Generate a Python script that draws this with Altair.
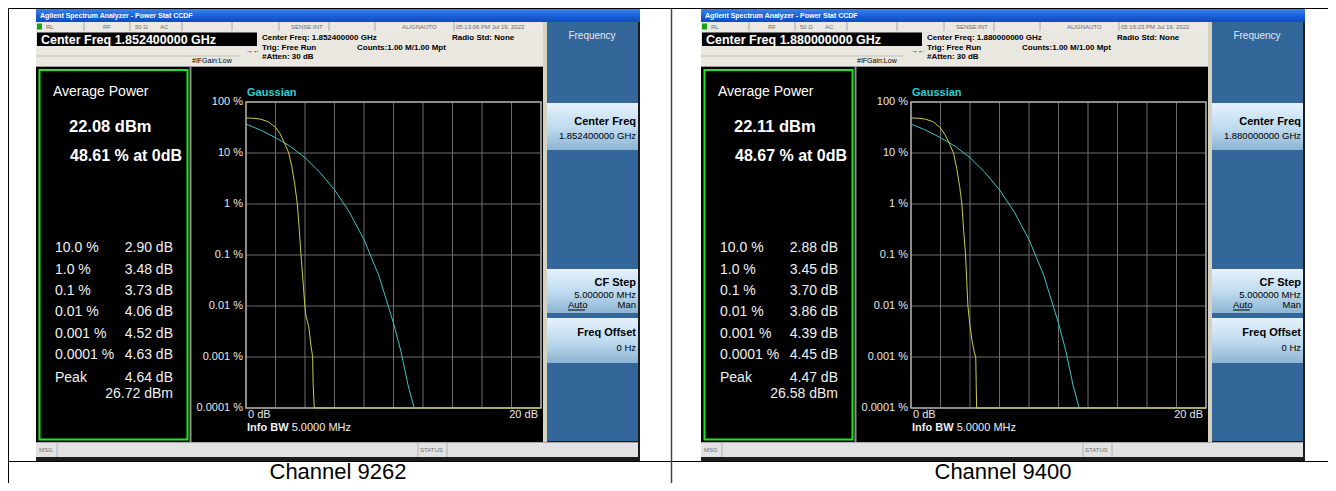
import altair as alt
import pandas as pd

# ---------------- data ----------------
channels = ["Channel 9262", "Channel 9400"]
center_freq = ["1.852400000 GHz", "1.880000000 GHz"]
timestamps = ["05:13:06 PM Jul 19, 2022", "05:16:23 PM Jul 19, 2022"]
avg_power = ["22.08 dBm", "22.11 dBm"]
pct_at_0db = ["48.61 % at 0dB", "48.67 % at 0dB"]
stat_labels = ["10.0 %", "1.0 %", "0.1 %", "0.01 %", "0.001 %", "0.0001 %", "Peak"]
stat_values = [
    ["2.90 dB", "3.48 dB", "3.73 dB", "4.06 dB", "4.52 dB", "4.63 dB", "4.64 dB"],
    ["2.88 dB", "3.45 dB", "3.70 dB", "3.86 dB", "4.39 dB", "4.45 dB", "4.47 dB"],
]
peak_dbm = ["26.72 dBm", "26.58 dBm"]

x_ticks_db = [0, 2, 4, 6, 8, 10, 12, 14, 16, 18, 20]
y_ticks_pct = [100, 10, 1, 0.1, 0.01, 0.001, 0.0001]
y_tick_labels = ["100 %", "10 %", "1 %", "0.1 %", "0.01 %", "0.001 %", "0.0001 %"]

# Gaussian reference trace
gauss_db = [0, 1, 2, 3, 4, 5, 6, 7, 8, 9, 10, 10.5, 11, 11.4]
gauss_pct = [37, 28, 20, 13.5, 8.1, 4.2, 1.9, 0.7, 0.2, 0.04, 0.0046, 0.0013, 0.00027, 0.0001]

meas_db = [
    [0, 0.5, 1, 1.5, 2, 2.3, 2.6, 2.9, 3.1, 3.3, 3.48, 3.6, 3.73, 3.85, 3.97, 4.06, 4.25, 4.4, 4.52, 4.55, 4.63, 20],
    [0, 0.5, 1, 1.5, 2, 2.3, 2.6, 2.88, 3.1, 3.3, 3.45, 3.57, 3.7, 3.78, 3.86, 4.0, 4.15, 4.3, 4.39, 4.42, 4.45, 20],
]
meas_pct = [
    [48.6, 48, 46, 41, 32, 24, 16, 10, 5.5, 2.5, 1, 0.35, 0.1, 0.035, 0.012, 0.0065, 0.004, 0.0017, 0.001, 0.0003, 0.0001, 0.0001],
    [48.7, 48, 46, 41, 31, 23, 15.5, 10, 5, 2.2, 1, 0.3, 0.1, 0.03, 0.01, 0.004, 0.002, 0.0012, 0.001, 0.0003, 0.0001, 0.0001],
]

# ---------------- helpers ----------------
OFF = 8
FONT = "Liberation Sans"
ONE = pd.DataFrame({"k": [0]})


def R(x1, y1, x2, y2, fill, **kw):
    return alt.Chart(ONE).mark_rect(fill=fill, **kw).encode(
        x=alt.value(x1 - OFF), x2=alt.value(x2 - OFF),
        y=alt.value(y1 - OFF), y2=alt.value(y2 - OFF))


def L(x1, y1, x2, y2, color, w=1):
    return alt.Chart(ONE).mark_rule(color=color, strokeWidth=w).encode(
        x=alt.value(x1 - OFF), x2=alt.value(x2 - OFF),
        y=alt.value(y1 - OFF), y2=alt.value(y2 - OFF))


def T(s, x, y, size, color="#ffffff", bold=False, align="left", baseline="middle"):
    return alt.Chart(ONE).mark_text(
        text=s, align=align, baseline=baseline, fontSize=size, font=FONT,
        fontWeight="bold" if bold else "normal", color=color).encode(
        x=alt.value(x - OFF), y=alt.value(y - OFF))


def vgrad(c1, c2, c3):
    return alt.Gradient(gradient="linear", x1=0, x2=0, y1=0, y2=1,
                        stops=[alt.GradientStop(color=c1, offset=0),
                               alt.GradientStop(color=c2, offset=0.55),
                               alt.GradientStop(color=c3, offset=1)])


TITLE_GRAD = vgrad("#3d86ea", "#1a5fd6", "#0c4cc0")
BTN_GRAD = vgrad("#e6f2fb", "#bcd9ee", "#8db4d2")


def screen(i):
    ox = 665 * i
    X = lambda v: v + ox
    ls = []
    # window base
    ls.append(R(X(36), 9, X(640), 461, "#1c1c1c"))
    # title bar
    ls.append(R(X(36), 9, X(640), 22, TITLE_GRAD))
    ls.append(T("Agilent Spectrum Analyzer - Power Stat CCDF", X(40), 16, 7, bold=True))
    # status row
    ls.append(R(X(36), 22, X(545), 31, "#ebe9e3"))
    for sx in [84, 130, 182, 232, 279, 329, 375, 454]:
        ls.append(L(X(sx), 22, X(sx), 31, "#a8a8a8"))
    ls.append(R(X(37), 23.5, X(42), 29.5, "#18a018"))
    for s, sx in [("RL", 46), ("RF", 103), ("50 Ω", 135), ("AC", 160),
                  ("SENSE:INT", 291), ("ALIGNAUTO", 402), (timestamps[i], 456)]:
        ls.append(T(s, X(sx), 26.8, 6, color="#6a6a6a"))
    # header
    ls.append(R(X(36), 31, X(545), 67, "#e9e7df"))
    ls.append(R(X(37), 32.5, X(257), 46, "#000000"))
    ls.append(T("Center Freq " + center_freq[i], X(41), 39.5, 12.5, bold=True))
    ls.append(L(X(36), 56, X(240), 56, "#c4c2b8"))
    ls.append(T("Center Freq: " + center_freq[i], X(262), 38, 8, color="#000000", bold=True))
    ls.append(T("Radio Std: None", X(452), 38, 8, color="#000000", bold=True))
    ls.append(T("Trig: Free Run", X(262), 47.5, 8, color="#000000", bold=True))
    ls.append(T("Counts:1.00 M/1.00 Mpt", X(357), 47.5, 8, color="#000000", bold=True))
    ls.append(T("#Atten: 30 dB", X(262), 57, 8, color="#000000", bold=True))
    ls.append(T("#IFGain:Low", X(192), 60.5, 7, color="#000000"))
    ls.append(T("→←", X(246), 50.5, 7, color="#000000"))
    ls.append(L(X(36), 66.5, X(545), 66.5, "#9a9a9a"))
    # main display
    ls.append(R(X(36), 67, X(543), 442, "#000000"))
    ls.append(R(X(543), 22, X(547), 442, "#d6d2c2"))
    # soft keys
    ls.append(R(X(547), 22, X(638), 441, "#336699"))
    ls.append(T("Frequency", X(592), 36, 10, color="#e4e8f0", align="center"))
    for y1, y2 in [(103, 150), (269, 313), (318, 363)]:
        ls.append(R(X(547), y1, X(638), y2, BTN_GRAD))
    ls.append(T("Center Freq", X(636), 122, 11, color="#000000", bold=True, align="right"))
    ls.append(T(center_freq[i], X(636), 136, 9.5, color="#000000", align="right"))
    ls.append(T("CF Step", X(636), 283, 11, color="#000000", bold=True, align="right"))
    ls.append(T("5.000000 MHz", X(636), 295, 9.5, color="#000000", align="right"))
    ls.append(T("Auto", X(568), 305, 9.5, color="#000000"))
    ls.append(L(X(568), 310, X(585), 310, "#000000"))
    ls.append(T("Man", X(636), 305, 9.5, color="#000000", align="right"))
    ls.append(T("Freq Offset", X(636), 333, 11, color="#000000", bold=True, align="right"))
    ls.append(T("0 Hz", X(636), 348, 9.5, color="#000000", align="right"))
    # message bar
    ls.append(R(X(36), 442, X(638), 457, "#e2e2e2"))
    ls.append(L(X(36), 442.5, X(638), 442.5, "#a8a8a8"))
    ls.append(L(X(57), 443, X(57), 457, "#b0b0b0"))
    ls.append(L(X(418), 443, X(418), 457, "#b0b0b0"))
    ls.append(L(X(447), 443, X(447), 457, "#b0b0b0"))
    ls.append(T("MSG", X(39), 450, 6, color="#707070"))
    ls.append(T("STATUS", X(420), 450, 6, color="#707070"))
    # result panel
    ls.append(R(X(39.5), 70, X(187.5), 439.5, "#000000", stroke="#1ee61e", strokeWidth=2))
    ls.append(L(X(190.5), 67, X(190.5), 442, "#8c8c8c", 2))
    ls.append(T("Average Power", X(53), 92, 14))
    ls.append(T(avg_power[i], X(69), 127, 16.5, bold=True))
    ls.append(T(pct_at_0db[i], X(70), 156, 16, bold=True))
    rows_y = [248, 270, 291, 312, 334, 355, 378]
    for lab, val, ry in zip(stat_labels, stat_values[i], rows_y):
        ls.append(T(lab, X(55), ry, 14, color="#f0f0f0"))
        ls.append(T(val, X(173), ry, 14, color="#f0f0f0", align="right"))
    ls.append(T(peak_dbm[i], X(173), 394, 14, color="#f0f0f0", align="right"))

    # CCDF plot through scales
    xs = alt.Scale(domain=[0, 20], range=[X(246) - OFF, X(541) - OFF], nice=False, zero=False)
    ys = alt.Scale(type="log", domain=[0.0001, 100], range=[408 - OFF, 102 - OFF], nice=False)
    gx = pd.DataFrame({"db": x_ticks_db})
    gy = pd.DataFrame({"pct": y_ticks_pct, "lab": y_tick_labels})
    ls.append(alt.Chart(gx).mark_rule(color="#6c6c6c", strokeWidth=1).encode(
        x=alt.X("db:Q", scale=xs, axis=None), y=alt.value(102 - OFF), y2=alt.value(408 - OFF)))
    ls.append(alt.Chart(gy).mark_rule(color="#6c6c6c", strokeWidth=1).encode(
        y=alt.Y("pct:Q", scale=ys, axis=None), x=alt.value(X(246) - OFF), x2=alt.value(X(541) - OFF)))
    ls.append(R(X(246), 102, X(541), 408, "transparent", stroke="#a8a8a8", strokeWidth=1.5))
    ls.append(alt.Chart(gy).mark_text(align="right", baseline="middle", fontSize=11, font=FONT,
                                      color="#e8e8e8").encode(
        y=alt.Y("pct:Q", scale=ys, axis=None), x=alt.value(X(243) - OFF), text="lab:N"))
    xl = pd.DataFrame({"db": [x_ticks_db[0]], "lab": ["0 dB"]})
    xr = pd.DataFrame({"db": [x_ticks_db[-1]], "lab": ["20 dB"]})
    ls.append(alt.Chart(xl).mark_text(align="left", baseline="middle", fontSize=11, font=FONT,
                                      color="#e8e8e8", dx=2).encode(
        x=alt.X("db:Q", scale=xs, axis=None), y=alt.value(414.5 - OFF), text="lab:N"))
    ls.append(alt.Chart(xr).mark_text(align="right", baseline="middle", fontSize=11, font=FONT,
                                      color="#e8e8e8", dx=-3).encode(
        x=alt.X("db:Q", scale=xs, axis=None), y=alt.value(414.5 - OFF), text="lab:N"))
    ls.append(T("Info BW", X(247), 428, 11, color="#f0f0f0", bold=True))
    ls.append(T("5.0000 MHz", X(291.7), 428, 11, color="#f0f0f0"))
    ls.append(T("Gaussian", X(247), 93, 11, color="#2ccfd6", bold=True))

    gdf = pd.DataFrame({"db": gauss_db, "pct": gauss_pct})
    ls.append(alt.Chart(gdf).mark_line(color="#3cc4c8", strokeWidth=1, clip=False).encode(
        x=alt.X("db:Q", scale=xs, axis=None), y=alt.Y("pct:Q", scale=ys, axis=None)))
    mdf = pd.DataFrame({"db": meas_db[i], "pct": meas_pct[i]})
    ls.append(alt.Chart(mdf).mark_line(color="#cccc48", strokeWidth=1, clip=False).encode(
        x=alt.X("db:Q", scale=xs, axis=None), y=alt.Y("pct:Q", scale=ys, axis=None)))
    return ls


layers = []
# table frame
layers.append(L(8.5, 8.5, 1328, 8.5, "#000000"))
layers.append(L(8.5, 8.5, 8.5, 483, "#000000"))
layers.append(L(8, 461.5, 1328, 461.5, "#000000"))
layers.append(L(671.5, 8.5, 671.5, 483, "#444444", 1.5))
layers += screen(0)
layers += screen(1)
layers.append(T(channels[0], 338, 471.5, 22, color="#000000", align="center"))
layers.append(T(channels[1], 1003, 471.5, 22, color="#000000", align="center"))

chart = alt.layer(*layers).resolve_scale(x="independent", y="independent").properties(
    width=1320, height=475, autosize=alt.AutoSizeParams(type="none"), padding=0,
    background="#ffffff"
).configure_view(stroke=None)

chart.save("out.html", embed_options={"renderer": "svg", "actions": False})
